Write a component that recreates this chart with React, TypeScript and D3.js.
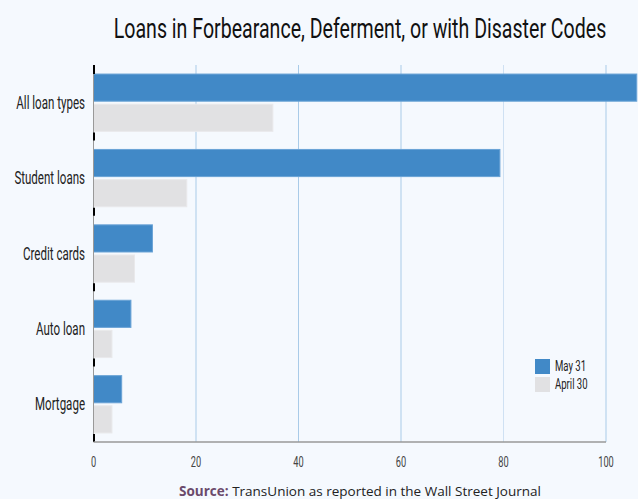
import React from 'react';
import * as d3 from 'd3';

const categories = ['All loan types', 'Student loans', 'Credit cards', 'Auto loan', 'Mortgage'];
const may31 = [106, 79.3, 11.5, 7.3, 5.5];
const april30 = [35.0, 18.2, 8.0, 3.6, 3.6];
const xTicks = [0, 20, 40, 60, 80, 100];
const seriesNames = ['May 31', 'April 30'];

const W = 638;
const H = 499;
const margin = { top: 65, right: 32, bottom: 57, left: 93.5 };
const BLUE = '#4189c7';
const GRAY = '#e1e1e3';
const NARROW = 'Roboto, "Liberation Sans", sans-serif';

const App: React.FC = () => {
  const innerH = H - margin.top - margin.bottom;

  const x = d3.scaleLinear().domain([0, 100]).range([margin.left, 606]);

  const y = d3
    .scaleBand<string>()
    .domain(categories)
    .range([margin.top, margin.top + innerH]);

  const sub = d3
    .scaleBand<string>()
    .domain(seriesNames)
    .range([0, y.bandwidth()])
    .paddingInner(0.1)
    .paddingOuter(0.3);

  const bottom = margin.top + innerH;
  const series = [may31, april30];
  const colors = [BLUE, GRAY];

  return (
    <svg
      width={W}
      height={H}
      style={{ position: 'absolute', left: 0, top: 0, background: '#f5f9fe' }}
    >
      <defs>
        <clipPath id="plot-clip">
          <rect x={0} y={0} width={W} height={H} />
        </clipPath>
      </defs>

      {/* Title */}
      <text
        transform="translate(360,38) scale(0.725,1)"
        textAnchor="middle"
        fontFamily={NARROW}
        fontSize={27}
        fill="#111"
      >
        Loans in Forbearance, Deferment, or with Disaster Codes
      </text>

      {/* Grid lines */}
      {xTicks.slice(1).map((t, i) => (
        <line
          key={t}
          x1={x(t)}
          x2={x(t)}
          y1={margin.top}
          y2={bottom}
          stroke={i === 3 ? '#cfe1f3' : '#a9cbe8'}
          strokeWidth={1}
        />
      ))}

      {/* Bars */}
      <g clipPath="url(#plot-clip)">
        {categories.map((c, ci) =>
          series.map((vals, si) => (
            <rect
              key={c + si}
              x={x(0)}
              y={(y(c) ?? 0) + (sub(seriesNames[si]) ?? 0)}
              width={x(vals[ci]) - x(0)}
              height={sub.bandwidth()}
              fill={colors[si]}
              stroke={si === 0 ? '#6aa3d6' : '#e9e9eb'}
              strokeWidth={1}
            />
          ))
        )}
      </g>

      {/* Y axis */}
      <line x1={x(0)} x2={x(0)} y1={margin.top} y2={bottom} stroke="#999" strokeWidth={1} />
      {[...categories.map(c => y(c) ?? 0), bottom].map((b, i) => (
        <line
          key={i}
          x1={x(0) + 0.5}
          x2={x(0) + 0.5}
          y1={i === 0 ? b : b - 8}
          y2={i === 0 ? b + 9 : b}
          stroke="#000"
          strokeWidth={2}
        />
      ))}
      {categories.map(c => (
        <text
          key={c}
          transform={`translate(85,${(y(c) ?? 0) + y.bandwidth() / 2 + 6}) scale(0.66,1)`}
          textAnchor="end"
          fontFamily={NARROW}
          fontSize={17.5}
          fill="#222"
        >
          {c}
        </text>
      ))}

      {/* X axis */}
      <line x1={x(0)} x2={x(100)} y1={bottom} y2={bottom} stroke="#999" strokeWidth={1.5} />
      {xTicks.map(t => (
        <text
          key={t}
          transform={`translate(${x(t)},${bottom + 25}) scale(0.66,1)`}
          textAnchor="middle"
          fontFamily={NARROW}
          fontSize={14}
          fill="#444"
        >
          {t}
        </text>
      ))}

      {/* Legend */}
      {seriesNames.map((s, i) => (
        <g key={s} transform={`translate(535,${359 + i * 18})`}>
          <rect width={15} height={15} fill={colors[i]} />
          <text
            transform="translate(20,12) scale(0.66,1)"
            fontFamily={NARROW}
            fontSize={14.5}
            fill="#222"
          >
            {s}
          </text>
        </g>
      ))}

      {/* Source */}
      <text
        x={360}
        y={496}
        textAnchor="middle"
        fontFamily='"Open Sans", sans-serif'
        fontSize={13.5}
        fill="#222"
      >
        <tspan fill="#6b4a6b" fontWeight="bold">Source:</tspan> TransUnion as reported in the Wall Street Journal
      </text>
    </svg>
  );
};

export default App;
